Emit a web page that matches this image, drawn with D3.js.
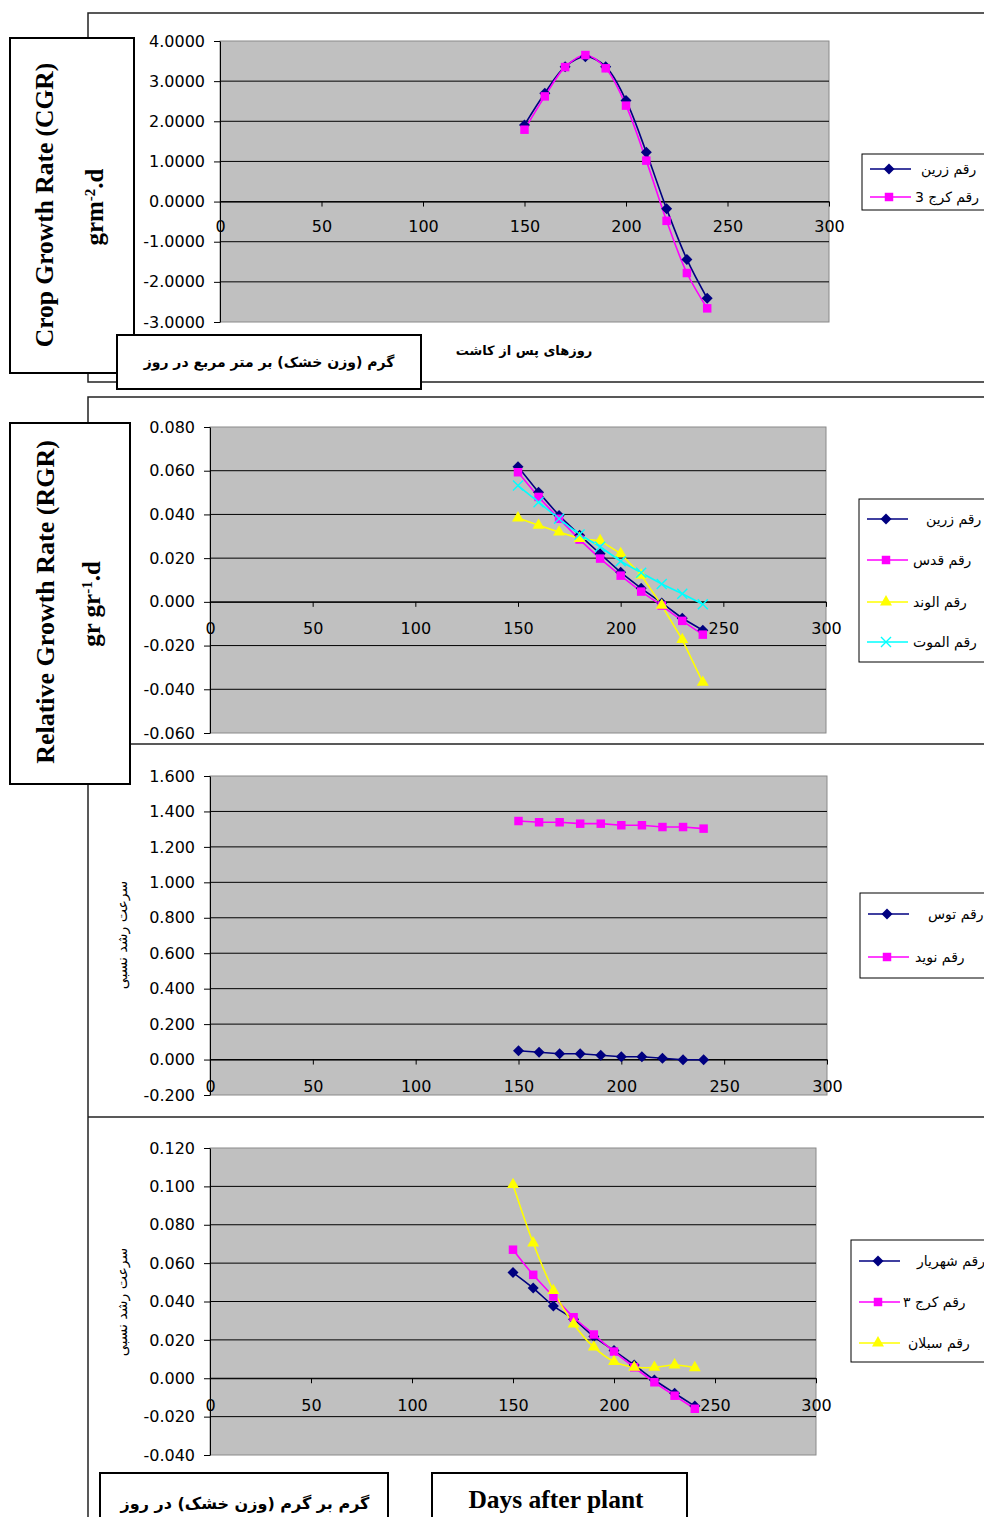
<!DOCTYPE html>
<html>
<head>
<meta charset="utf-8">
<script src="https://cdn.jsdelivr.net/npm/d3@7"></script>
<style>
  body { margin: 0; background: #fff; }
  svg { display: block; }
</style>
</head>
<body>
<svg id="chart" width="984" height="1517"></svg>
<script>
// data ------------------------------------------------------------ //
var days = [150, 160, 170, 180, 190, 200, 210, 220, 230, 240];
var xTicks = [0, 50, 100, 150, 200, 250, 300];

var cgrTicks = [-3, -2, -1, 0, 1, 2, 3, 4];
var cgrZarrin = [1.91, 2.70, 3.36, 3.61, 3.36, 2.52, 1.23, -0.18, -1.44, -2.41];
var cgrKaraj3 = [1.79, 2.62, 3.35, 3.65, 3.32, 2.39, 1.02, -0.48, -1.78, -2.66];

var rgrTicks = [-0.06, -0.04, -0.02, 0, 0.02, 0.04, 0.06, 0.08];
var rgrZarrin = [0.0618, 0.0502, 0.0395, 0.0305, 0.0220, 0.0135, 0.0062, -0.0005, -0.0075, -0.0130];
var rgrQods = [0.0593, 0.0480, 0.0380, 0.0285, 0.0198, 0.0120, 0.0047, -0.0017, -0.0087, -0.0150];
var rgrAlvand = [0.0384, 0.0350, 0.0319, 0.0290, 0.0280, 0.0221, 0.0122, -0.0016, -0.0173, -0.0368];
var rgrAlmut = [0.0532, 0.0456, 0.0380, 0.0308, 0.0252, 0.0186, 0.0133, 0.0082, 0.0037, -0.0011];

var rgr2Ticks = [-0.2, 0, 0.2, 0.4, 0.6, 0.8, 1.0, 1.2, 1.4, 1.6];
var rgrToos = [0.050, 0.041, 0.033, 0.033, 0.024, 0.016, 0.016, 0.007, -0.001, -0.001];
var rgrNavid = [1.346, 1.339, 1.339, 1.331, 1.331, 1.322, 1.322, 1.312, 1.312, 1.303];

var rgr3Ticks = [-0.04, -0.02, 0, 0.02, 0.04, 0.06, 0.08, 0.10, 0.12];
var rgrShahriyar = [0.0551, 0.0470, 0.0377, 0.0308, 0.0217, 0.0144, 0.0069, -0.0009, -0.0078, -0.0145];
var rgrKaraj3b = [0.0670, 0.0539, 0.0426, 0.0318, 0.0228, 0.0139, 0.0057, -0.0021, -0.0091, -0.0159];
var rgrSabalan = [0.1009, 0.0705, 0.0457, 0.0283, 0.0162, 0.0087, 0.0057, 0.0057, 0.0069, 0.0055];

var svg = d3.select('#chart');
var loc = d3.formatLocale({ decimal: '.', thousands: ',', grouping: [3], currency: ['', ''], minus: '-' });

var NAVY = '#000080', MAGENTA = '#ff00ff', YELLOW = '#ffff00', CYAN = '#00ffff';

function markerPath(kind) {
  if (kind === 'diamond') return 'M0,-5.5L5.5,0L0,5.5L-5.5,0Z';
  if (kind === 'square') return d3.symbol().type(d3.symbolSquare).size(72)();
  if (kind === 'triangle') return d3.symbol().type(d3.symbolTriangle).size(62)();
  return 'M-5,-5L5,5M-5,5L5,-5';
}

function drawMarker(g, kind, color, cx, cy) {
  var m = g.append('path')
    .attr('d', markerPath(kind))
    .attr('transform', 'translate(' + cx + ',' + cy + ')');
  if (kind === 'x') m.attr('fill', 'none').attr('stroke', color).attr('stroke-width', 1.4);
  else m.attr('fill', color).attr('stroke', 'none');
}

// one chart panel ------------------------------------------------- //
function drawPanel(p) {
  var x = d3.scaleLinear().domain([0, 300]).range([p.left, p.right]),
    y = d3.scaleLinear().domain([p.ticks[0], p.ticks[p.ticks.length - 1]]).range([p.bottom, p.top]),
    fmt = loc.format(p.fmt);
  var g = svg.append('g');

  g.append('rect')
    .attr('x', p.left).attr('y', p.top)
    .attr('width', p.right - p.left).attr('height', p.bottom - p.top)
    .attr('fill', '#c0c0c0').attr('stroke', '#8a8a8a');

  g.selectAll('line.grid')
    .data(p.ticks.slice(1, -1))
    .enter()
    .append('line')
    .attr('class', 'grid')
    .attr('x1', p.left).attr('x2', p.right)
    .attr('y1', d => y(d)).attr('y2', d => y(d))
    .attr('stroke', '#000').attr('stroke-width', 1);

  var ya = g.append('g')
    .attr('transform', 'translate(' + p.left + ',0)')
    .call(d3.axisLeft(y).tickValues(p.ticks).tickSize(6).tickSizeOuter(0).tickPadding(9).tickFormat(fmt));
  var xa = g.append('g')
    .attr('transform', 'translate(0,' + y(0) + ')')
    .call(d3.axisBottom(x).tickValues(xTicks).tickSize(5).tickSizeOuter(0).tickPadding(p.xPad));
  [ya, xa].forEach(function (a) {
    a.selectAll('text').attr('font-family', 'DejaVu Sans').attr('font-size', 16).attr('fill', '#000');
    a.selectAll('path, line').attr('stroke', '#000');
  });

  var line = d3.line()
    .x((d, i) => x(days[i]))
    .y(d => y(d))
    .curve(p.smooth ? d3.curveCatmullRom.alpha(0.5) : d3.curveLinear);

  p.series.forEach(function (s) {
    g.append('path')
      .attr('d', line(s.values))
      .attr('fill', 'none')
      .attr('stroke', s.color)
      .attr('stroke-width', 1.6);
  });
  p.series.forEach(function (s) {
    s.values.forEach(function (v, i) {
      drawMarker(g, s.marker, s.color, x(days[i]), y(v));
    });
  });

  // legend
  var L = p.legend;
  g.append('rect')
    .attr('x', L.x).attr('y', L.y).attr('width', 140).attr('height', L.h)
    .attr('fill', '#fff').attr('stroke', '#000').attr('stroke-width', 1);
  p.series.forEach(function (s, i) {
    var ry = L.rows[i];
    g.append('line')
      .attr('x1', L.x + 8).attr('x2', L.x + 49)
      .attr('y1', ry).attr('y2', ry)
      .attr('stroke', s.color).attr('stroke-width', 1.6);
    drawMarker(g, s.marker, s.color, L.x + 27, ry);
    g.append('text')
      .attr('x', L.tx[i]).attr('y', ry + 5)
      .attr('font-family', 'DejaVu Sans').attr('font-size', 14)
      .text(s.name);
  });
}

// frames and label boxes ------------------------------------------- //
function frameLine(pts) {
  svg.append('path')
    .attr('d', d3.line()(pts))
    .attr('fill', 'none').attr('stroke', '#222').attr('stroke-width', 1.5);
}
frameLine([[984, 13], [88, 13], [88, 382], [984, 382]]);
frameLine([[984, 397], [88, 397], [88, 784]]);
frameLine([[130, 744], [984, 744]]);
frameLine([[88, 784], [88, 1517]]);
frameLine([[88, 1117], [984, 1117]]);

drawPanel({
  left: 220, right: 829, top: 41, bottom: 322, ticks: cgrTicks, fmt: '.4f', xPad: 14, smooth: true,
  series: [
    { name: 'رقم زرین', values: cgrZarrin, color: NAVY, marker: 'diamond' },
    { name: 'رقم کرج 3', values: cgrKaraj3, color: MAGENTA, marker: 'square' }
  ],
  legend: { x: 862, y: 154, h: 56, rows: [169, 197], tx: [921, 915] }
});

drawPanel({
  left: 210, right: 826, top: 427, bottom: 733, ticks: rgrTicks, fmt: '.3f', xPad: 16, smooth: false,
  series: [
    { name: 'رقم زرین', values: rgrZarrin, color: NAVY, marker: 'diamond' },
    { name: 'رقم قدس', values: rgrQods, color: MAGENTA, marker: 'square' },
    { name: 'رقم الوند', values: rgrAlvand, color: YELLOW, marker: 'triangle' },
    { name: 'رقم الموت', values: rgrAlmut, color: CYAN, marker: 'x' }
  ],
  legend: { x: 859, y: 499, h: 163, rows: [519, 560, 602, 642], tx: [926, 913, 913, 913] }
});

drawPanel({
  left: 210, right: 827, top: 776, bottom: 1095, ticks: rgr2Ticks, fmt: '.3f', xPad: 16, smooth: false,
  series: [
    { name: 'رقم توس', values: rgrToos, color: NAVY, marker: 'diamond' },
    { name: 'رقم نوید', values: rgrNavid, color: MAGENTA, marker: 'square' }
  ],
  legend: { x: 860, y: 893, h: 85, rows: [914, 957], tx: [928, 915] }
});

drawPanel({
  left: 210, right: 816, top: 1148, bottom: 1455, ticks: rgr3Ticks, fmt: '.3f', xPad: 16, smooth: true,
  series: [
    { name: 'رقم شهریار', values: rgrShahriyar, color: NAVY, marker: 'diamond' },
    { name: 'رقم کرج ۳', values: rgrKaraj3b, color: MAGENTA, marker: 'square' },
    { name: 'رقم سبلان', values: rgrSabalan, color: YELLOW, marker: 'triangle' }
  ],
  legend: { x: 851, y: 1240, h: 122, rows: [1261, 1302, 1343], tx: [917, 903, 908] }
});

function box(x0, y0, x1, y1) {
  svg.append('rect')
    .attr('x', x0).attr('y', y0).attr('width', x1 - x0).attr('height', y1 - y0)
    .attr('fill', '#fff').attr('stroke', '#000').attr('stroke-width', 2);
}

// vertical title boxes
box(10, 38, 134, 373);
svg.append('text')
  .attr('transform', 'translate(53,205) rotate(-90)')
  .attr('text-anchor', 'middle')
  .attr('font-family', 'Liberation Serif').attr('font-weight', 'bold').attr('font-size', 25.5)
  .text('Crop Growth Rate (CGR)');
var t1b = svg.append('text')
  .attr('transform', 'translate(103,207) rotate(-90)')
  .attr('text-anchor', 'middle')
  .attr('font-family', 'Liberation Serif').attr('font-weight', 'bold').attr('font-size', 25);
t1b.append('tspan').text('grm');
t1b.append('tspan').attr('font-size', 15).attr('baseline-shift', 'super').text('-2');
t1b.append('tspan').text('.d');

box(10, 423, 130, 784);
svg.append('text')
  .attr('transform', 'translate(54,602) rotate(-90)')
  .attr('text-anchor', 'middle')
  .attr('font-family', 'Liberation Serif').attr('font-weight', 'bold').attr('font-size', 26)
  .text('Relative Growth Rate (RGR)');
var t2b = svg.append('text')
  .attr('transform', 'translate(100,604) rotate(-90)')
  .attr('text-anchor', 'middle')
  .attr('font-family', 'Liberation Serif').attr('font-weight', 'bold').attr('font-size', 25);
t2b.append('tspan').text('gr gr');
t2b.append('tspan').attr('font-size', 15).attr('baseline-shift', 'super').text('-1');
t2b.append('tspan').text('.d');

// small persian y labels
[935, 1302].forEach(function (cy) {
  svg.append('text')
    .attr('transform', 'translate(127,' + cy + ') rotate(-90)')
    .attr('text-anchor', 'middle')
    .attr('font-family', 'DejaVu Sans').attr('font-size', 14)
    .text('سرعت رشد نسبی');
});

// bottom boxes
box(117, 335, 421, 389);
svg.append('text')
  .attr('x', 269).attr('y', 367).attr('text-anchor', 'middle')
  .attr('font-family', 'DejaVu Sans').attr('font-weight', 'bold').attr('font-size', 14)
  .text('گرم (وزن خشک) بر متر مربع در روز');
svg.append('text')
  .attr('x', 524).attr('y', 355).attr('text-anchor', 'middle')
  .attr('font-family', 'DejaVu Sans').attr('font-weight', 'bold').attr('font-size', 13)
  .text('روزهای پس از کاشت');

box(100, 1473, 388, 1530);
svg.append('text')
  .attr('x', 245).attr('y', 1509).attr('text-anchor', 'middle')
  .attr('font-family', 'DejaVu Sans').attr('font-weight', 'bold').attr('font-size', 16)
  .text('گرم بر گرم (وزن خشک) در روز');
box(432, 1473, 687, 1530);
svg.append('text')
  .attr('x', 556).attr('y', 1508).attr('text-anchor', 'middle')
  .attr('font-family', 'Liberation Serif').attr('font-weight', 'bold').attr('font-size', 25.5)
  .text('Days after plant');
</script>
</body>
</html>
